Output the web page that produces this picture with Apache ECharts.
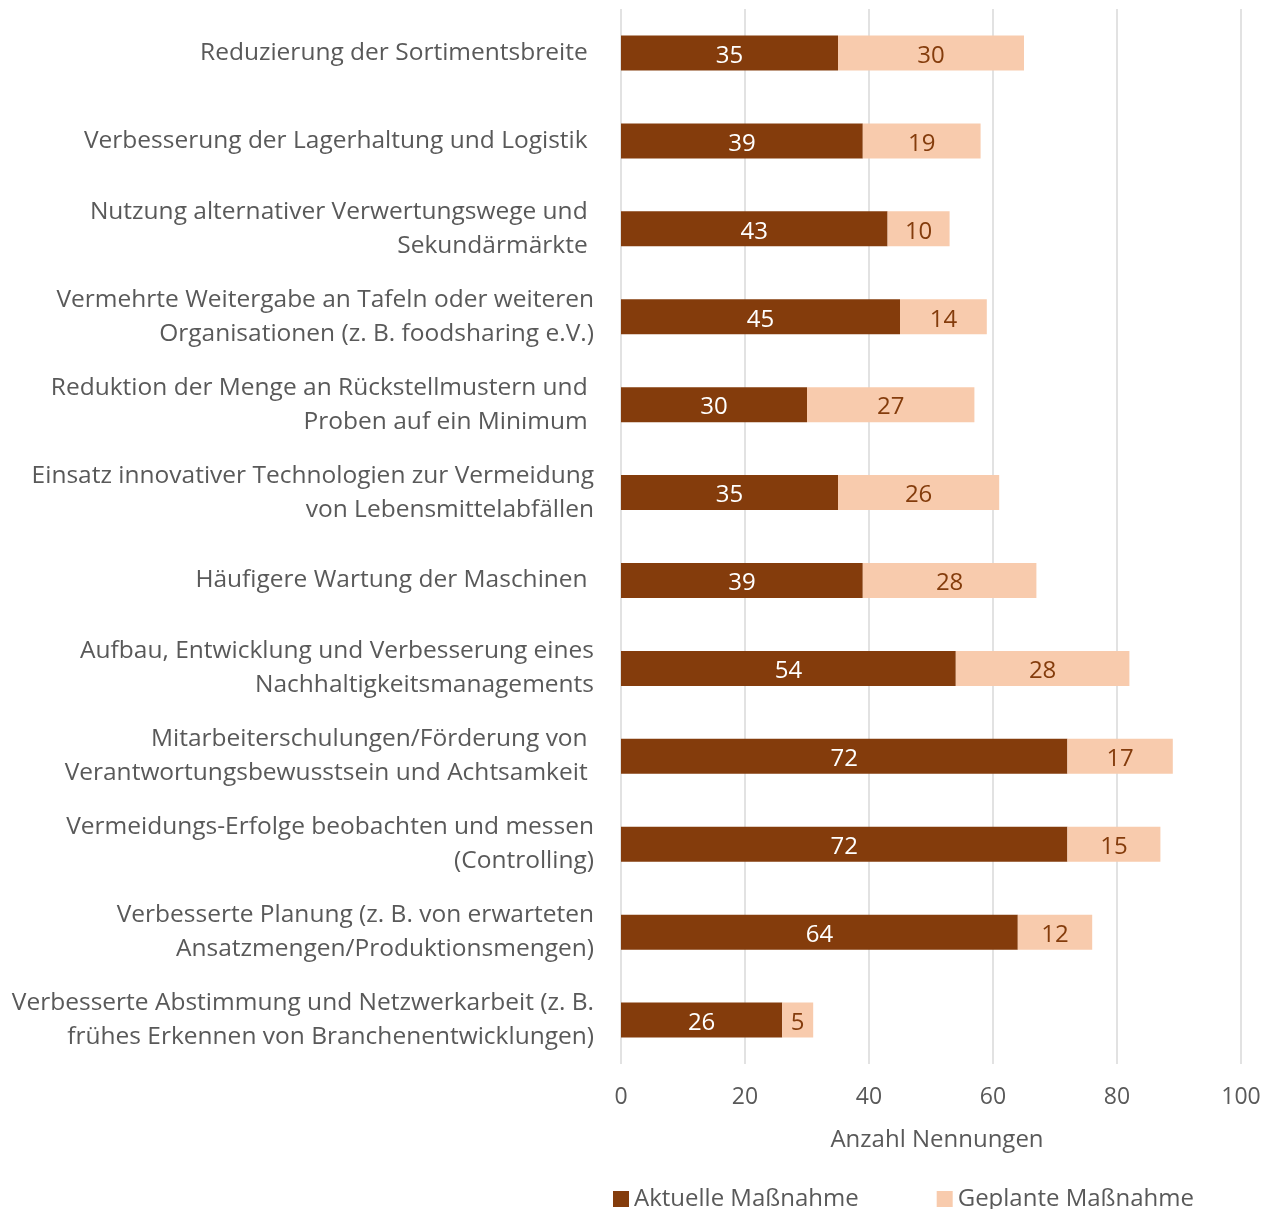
<!DOCTYPE html>
<html>
<head>
<meta charset="utf-8">
<script src="https://cdn.jsdelivr.net/npm/echarts@6/dist/echarts.min.js"></script>
<style>
    html, body { margin: 0; padding: 0; background: #fff; }
    #chart { width: 1273px; height: 1209px; }
</style>
</head>
<body>
<div id="chart"></div>
<script>
let categories = [
    'Reduzierung der Sortimentsbreite ',
    'Verbesserung der Lagerhaltung und Logistik ',
    'Nutzung alternativer Verwertungswege und \nSekundärmärkte ',
    'Vermehrte Weitergabe an Tafeln oder weiteren\nOrganisationen (z. B. foodsharing e.V.)',
    'Reduktion der Menge an Rückstellmustern und \nProben auf ein Minimum ',
    'Einsatz innovativer Technologien zur Vermeidung\nvon Lebensmittelabfällen',
    'Häufigere Wartung der Maschinen ',
    'Aufbau, Entwicklung und Verbesserung eines\nNachhaltigkeitsmanagements',
    'Mitarbeiterschulungen/Förderung von \nVerantwortungsbewusstsein und Achtsamkeit ',
    'Vermeidungs-Erfolge beobachten und messen\n(Controlling)',
    'Verbesserte Planung (z. B. von erwarteten\nAnsatzmengen/Produktionsmengen)',
    'Verbesserte Abstimmung und Netzwerkarbeit (z. B.\nfrühes Erkennen von Branchenentwicklungen)'
];
let aktuell = [35, 39, 43, 45, 30, 35, 39, 54, 72, 72, 64, 26];
let geplant = [30, 19, 10, 14, 27, 26, 28, 28, 17, 15, 12, 5];

let font = '"Open Sans", sans-serif';

let option = {
    textStyle: { fontFamily: font },
    grid: {
        left: 621,
        right: 32,
        top: 9,
        height: 1055
    },
    legend: {
        left: 608,
        top: 1182,
        itemWidth: 16,
        itemHeight: 16,
        itemGap: 78,
        icon: 'rect',
        textStyle: { fontSize: 24, color: '#595959', fontFamily: font, padding: [3, 0, 0, 0] },
        data: ['Aktuelle Maßnahme', 'Geplante Maßnahme']
    },
    xAxis: {
        type: 'value',
        min: 0,
        max: 100,
        interval: 20,
        name: 'Anzahl Nennungen',
        nameLocation: 'middle',
        nameGap: 64,
        nameTextStyle: { fontSize: 24, color: '#595959', fontFamily: font, padding: [0, 0, 0, 12] },
        axisLine: { show: false },
        axisTick: { show: false },
        axisLabel: { fontSize: 23, color: '#595959', margin: 22, fontFamily: font },
        splitLine: { lineStyle: { color: '#d9d9d9', width: 1.5 } }
    },
    yAxis: {
        type: 'category',
        inverse: true,
        data: categories,
        axisLine: { show: false },
        axisTick: { show: false },
        axisLabel: {
            fontSize: 24.5,
            color: '#595959',
            margin: 27,
            lineHeight: 34,
            align: 'right',
            verticalAlign: 'middle',
            padding: [6, 0, 0, 0],
            fontFamily: font
        }
    },
    series: [
        {
            name: 'Aktuelle Maßnahme',
            type: 'bar',
            stack: 'total',
            barWidth: 35,
            itemStyle: { color: '#843c0c' },
            label: {
                show: true,
                position: 'inside',
                color: '#ffffff',
                fontSize: 24,
                offset: [0, 3],
                fontFamily: font
            },
            data: aktuell
        },
        {
            name: 'Geplante Maßnahme',
            type: 'bar',
            stack: 'total',
            barWidth: 35,
            itemStyle: { color: '#f8cbad' },
            label: {
                show: true,
                position: 'inside',
                color: '#843c0c',
                fontSize: 24,
                offset: [0, 3],
                fontFamily: font
            },
            data: geplant
        }
    ]
};

let myChart = echarts.init(document.getElementById('chart'));
myChart.setOption(option);
</script>
</body>
</html>
